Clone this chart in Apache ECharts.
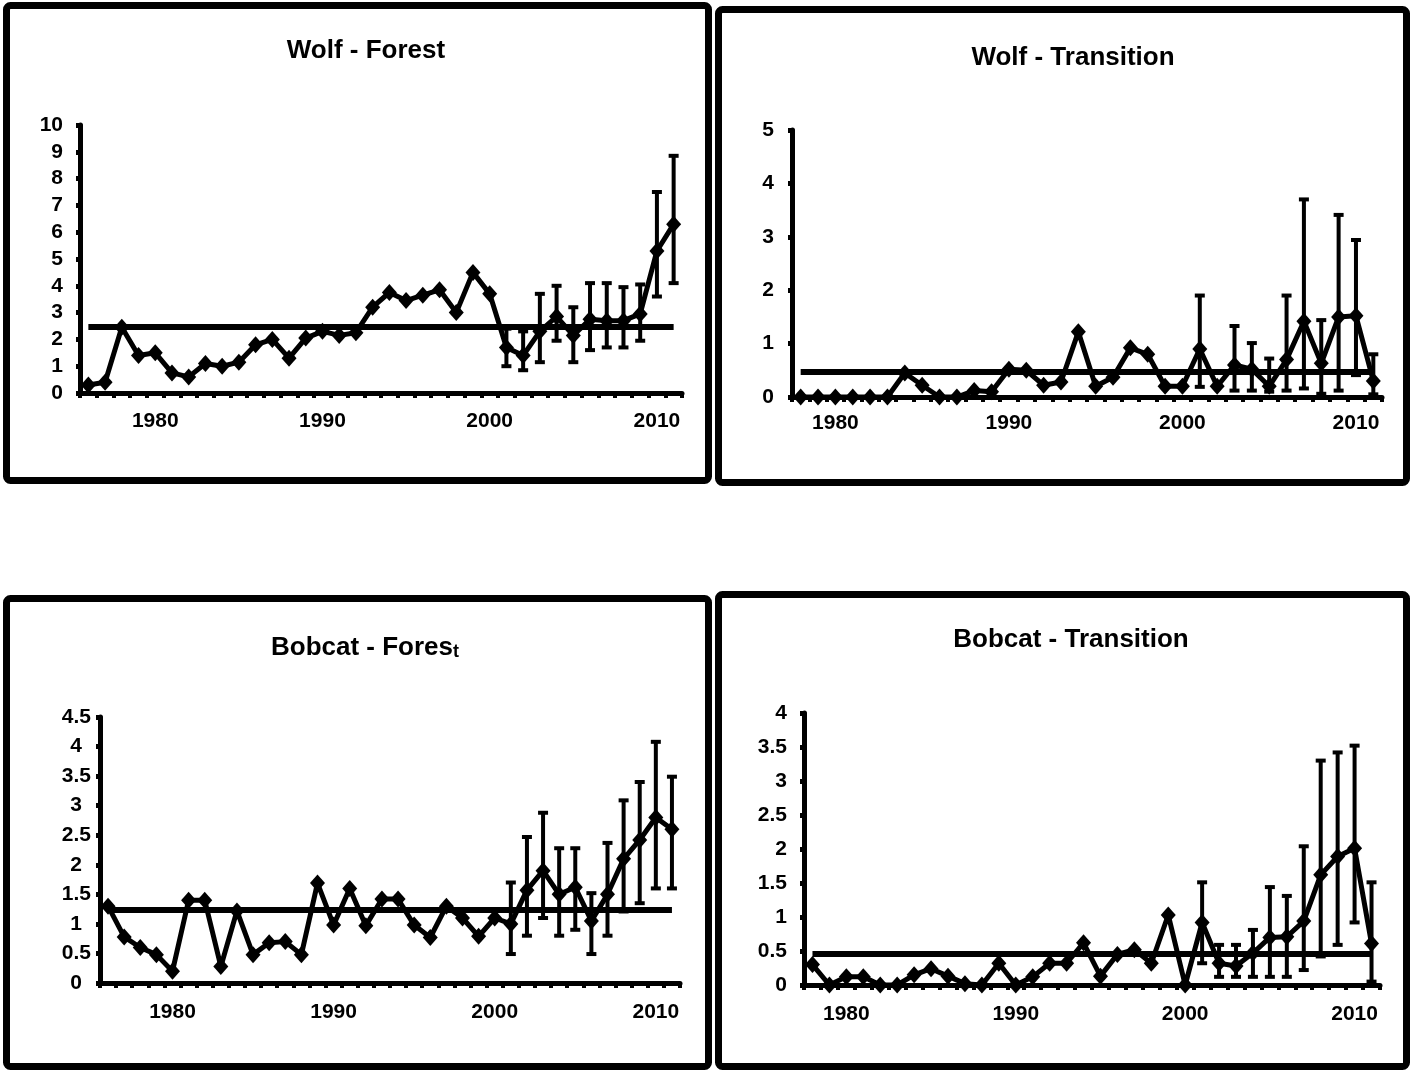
<!DOCTYPE html>
<html>
<head>
<meta charset="utf-8">
<script src="https://cdn.jsdelivr.net/npm/echarts@6/dist/echarts.min.js"></script>
<style>
  html, body { margin: 0; padding: 0; background: #fff; }
  #chart { width: 1416px; height: 1071px; }
</style>
</head>
<body>
<div id="chart"></div>
<script>
// years on the category axes
const yearsForest = [1976, 1977, 1978, 1979, 1980, 1981, 1982, 1983, 1984, 1985, 1986, 1987,
  1988, 1989, 1990, 1991, 1992, 1993, 1994, 1995, 1996, 1997, 1998, 1999, 2000, 2001, 2002,
  2003, 2004, 2005, 2006, 2007, 2008, 2009, 2010, 2011];
const yearsTransition = [1978, 1979, 1980, 1981, 1982, 1983, 1984, 1985, 1986, 1987, 1988,
  1989, 1990, 1991, 1992, 1993, 1994, 1995, 1996, 1997, 1998, 1999, 2000, 2001, 2002, 2003,
  2004, 2005, 2006, 2007, 2008, 2009, 2010, 2011];

// Wolf - Forest
const wolfForest = [0.3, 0.4, 2.45, 1.4, 1.5, 0.75, 0.6, 1.1, 1.0, 1.15, 1.8, 2.0, 1.3, 2.05,
  2.3, 2.15, 2.25, 3.2, 3.75, 3.45, 3.65, 3.85, 3.0, 4.5, 3.7, 1.7, 1.4, 2.3, 2.85, 2.15, 2.75,
  2.7, 2.7, 2.95, 5.3, 6.3];
const wolfForestErrYears = [2001, 2002, 2003, 2004, 2005, 2006, 2007, 2008, 2009, 2010, 2011];
const wolfForestLow = [1.0, 0.85, 1.15, 1.95, 1.15, 1.6, 1.7, 1.7, 1.95, 3.6, 4.1];
const wolfForestHigh = [2.4, 2.3, 3.7, 4.0, 3.2, 4.1, 4.1, 3.95, 4.05, 7.5, 8.85];
const wolfForestMean = 2.47;

// Wolf - Transition
const wolfTrans = [0, 0, 0, 0, 0, 0, 0.45, 0.22, 0, 0, 0.12, 0.1, 0.52, 0.5, 0.22, 0.28, 1.22,
  0.2, 0.37, 0.92, 0.8, 0.2, 0.2, 0.9, 0.2, 0.6, 0.52, 0.2, 0.7, 1.42, 0.63, 1.5, 1.52, 0.3];
const wolfTransErrYears = [2001, 2003, 2004, 2005, 2006, 2007, 2008, 2009, 2010, 2011];
const wolfTransLow = [0.19, 0.12, 0.12, 0.1, 0.12, 0.16, 0.06, 0.12, 0.41, 0.05];
const wolfTransHigh = [1.9, 1.33, 1.01, 0.72, 1.9, 3.7, 1.44, 3.41, 2.94, 0.8];
const wolfTransMean = 0.47;

// Bobcat - Forest
const bobForest = [1.3, 0.78, 0.6, 0.48, 0.2, 1.4, 1.4, 0.28, 1.22, 0.48, 0.68, 0.7, 0.48, 1.69,
  0.98, 1.6, 0.97, 1.42, 1.42, 0.98, 0.77, 1.3, 1.1, 0.79, 1.1, 1.0, 1.57, 1.9, 1.5, 1.62, 1.05,
  1.5, 2.1, 2.42, 2.8, 2.6];
const bobForestErrYears = [2001, 2002, 2003, 2004, 2005, 2006, 2007, 2008, 2009, 2010, 2011];
const bobForestLow = [0.49, 0.8, 1.1, 0.8, 0.9, 0.49, 0.8, 1.21, 1.35, 1.6, 1.6];
const bobForestHigh = [1.7, 2.47, 2.88, 2.28, 2.28, 1.52, 2.37, 3.09, 3.4, 4.08, 3.49];
const bobForestMean = 1.24;

// Bobcat - Transition
const bobTrans = [0.3, 0, 0.12, 0.12, 0, 0, 0.15, 0.24, 0.13, 0.02, 0, 0.32, 0, 0.12, 0.32, 0.32,
  0.62, 0.13, 0.45, 0.52, 0.32, 1.03, 0, 0.92, 0.32, 0.28, 0.47, 0.7, 0.71, 0.94, 1.62, 1.89,
  2.01, 0.61];
const bobTransErrYears = [2001, 2002, 2003, 2004, 2005, 2006, 2007, 2008, 2009, 2010, 2011];
const bobTransLow = [0.32, 0.12, 0.12, 0.12, 0.12, 0.12, 0.22, 0.42, 0.59, 0.92, 0.05];
const bobTransHigh = [1.51, 0.59, 0.59, 0.81, 1.44, 1.31, 2.04, 3.3, 3.42, 3.52, 1.51];
const bobTransMean = 0.46;

const FONT = '"Liberation Sans", Arial, sans-serif';

const panels = [
  { title: 'Wolf - Forest', years: yearsForest, values: wolfForest, errYears: wolfForestErrYears,
    low: wolfForestLow, high: wolfForestHigh, mean: wolfForestMean, yMax: 10, yInterval: 1,
    grid: { left: 80, top: 125, width: 602, height: 268 }, yMargin: 17, xMargin: 18,
    titleX: 361, titleY: 33, box: [6.5, 5.5, 702, 475] },
  { title: 'Wolf - Transition', years: yearsTransition, values: wolfTrans, errYears: wolfTransErrYears,
    low: wolfTransLow, high: wolfTransHigh, mean: wolfTransMean, yMax: 5, yInterval: 1,
    grid: { left: 792, top: 130, width: 590, height: 267 }, yMargin: 18, xMargin: 16,
    titleX: 1068, titleY: 40, box: [718.5, 9.5, 688, 473] },
  { title: 'Bobcat - Forest', years: yearsForest, values: bobForest, errYears: bobForestErrYears,
    low: bobForestLow, high: bobForestHigh, mean: bobForestMean, yMax: 4.5, yInterval: 0.5,
    grid: { left: 100, top: 717, width: 580, height: 266 }, yMargin: 9, xMargin: 19, padInt: true,
    titleX: 360, titleY: 626, box: [6.5, 598.5, 702, 468] },
  { title: 'Bobcat - Transition', years: yearsTransition, values: bobTrans, errYears: bobTransErrYears,
    low: bobTransLow, high: bobTransHigh, mean: bobTransMean, yMax: 4, yInterval: 0.5,
    grid: { left: 804, top: 713, width: 576, height: 272 }, yMargin: 17, xMargin: 19,
    titleX: 1066, titleY: 622, box: [718.5, 594.5, 688, 472] }
];

function errorBar(params, api) {
  const lo = api.coord([api.value(0), api.value(1)]);
  const hi = api.coord([api.value(0), api.value(2)]);
  const cap = 5;
  const st = { stroke: '#000', lineWidth: 4 };
  return {
    type: 'group',
    children: [
      { type: 'line', shape: { x1: hi[0], y1: hi[1], x2: lo[0], y2: lo[1] }, style: st },
      { type: 'line', shape: { x1: hi[0] - cap, y1: hi[1], x2: hi[0] + cap, y2: hi[1] }, style: st },
      { type: 'line', shape: { x1: lo[0] - cap, y1: lo[1], x2: lo[0] + cap, y2: lo[1] }, style: st }
    ]
  };
}

const labelBase = { color: '#000', fontSize: 21, fontWeight: 'bold', fontFamily: FONT };

const option = {
  animation: false,
  backgroundColor: '#fff',
  title: panels.map(p => {
    const t = { left: p.titleX, top: p.titleY, textAlign: 'center',
      textStyle: { color: '#000', fontSize: 26, fontWeight: 'bold', fontFamily: FONT } };
    if (p.title === 'Bobcat - Forest') {
      t.text = '{a|Bobcat - Fores}{b|t}';
      t.textStyle.rich = {
        a: { fontSize: 26, fontWeight: 'bold', fontFamily: FONT, color: '#000', lineHeight: 30, verticalAlign: 'bottom' },
        b: { fontSize: 18, fontWeight: 'bold', fontFamily: FONT, color: '#000', lineHeight: 30, verticalAlign: 'bottom' }
      };
    } else {
      t.text = p.title;
    }
    return t;
  }),
  graphic: panels.map(p => ({
    type: 'rect', z: 100,
    shape: { x: p.box[0], y: p.box[1], width: p.box[2], height: p.box[3], r: 4 },
    style: { fill: 'none', stroke: '#000', lineWidth: 7 }
  })),
  grid: panels.map(p => Object.assign({ containLabel: false }, p.grid)),
  xAxis: panels.map((p, i) => ({
    type: 'category', gridIndex: i, boundaryGap: true,
    data: p.years.map(String),
    axisLine: { lineStyle: { color: '#000', width: 5 } },
    axisTick: { show: true, interval: 0, length: 5, lineStyle: { color: '#000', width: 4 } },
    axisLabel: Object.assign({ interval: (idx, v) => Number(v) % 10 === 0, margin: p.xMargin }, labelBase),
    splitLine: { show: false }
  })),
  yAxis: panels.map((p, i) => ({
    type: 'value', gridIndex: i, min: 0, max: p.yMax, interval: p.yInterval,
    axisLine: { show: true, lineStyle: { color: '#000', width: 5 } },
    axisTick: { show: true, length: 4, lineStyle: { color: '#000', width: 5 } },
    axisLabel: Object.assign({
      margin: p.yMargin,
      formatter: p.padInt ? (v => Number.isInteger(v) ? '{i|' + v + '}' : '{d|' + v + '}') : (v => String(v)),
      rich: p.padInt ? {
        i: Object.assign({ padding: [0, 9, 0, 0] }, labelBase),
        d: Object.assign({}, labelBase)
      } : undefined
    }, labelBase),
    splitLine: { show: false }
  })),
  series: panels.flatMap((p, i) => [
    {
      type: 'line', xAxisIndex: i, yAxisIndex: i, z: 3,
      data: p.values,
      showAllSymbol: true,
      symbol: 'diamond', symbolSize: [15, 17],
      lineStyle: { color: '#000', width: 5 },
      itemStyle: { color: '#000' },
      markLine: {
        silent: true, symbol: ['none', 'none'], label: { show: false },
        lineStyle: { color: '#000', width: 6, type: 'solid' },
        data: [[{ coord: [String(p.years[0]), p.mean] },
                { coord: [String(p.years[p.years.length - 1]), p.mean] }]]
      }
    },
    {
      type: 'custom', xAxisIndex: i, yAxisIndex: i, z: 4,
      renderItem: errorBar,
      encode: { x: 0, y: [1, 2] },
      data: p.errYears.map((y, k) => [String(y), p.low[k], p.high[k]])
    }
  ])
};

const chart = echarts.init(document.getElementById('chart'));
chart.setOption(option);
</script>
</body>
</html>
